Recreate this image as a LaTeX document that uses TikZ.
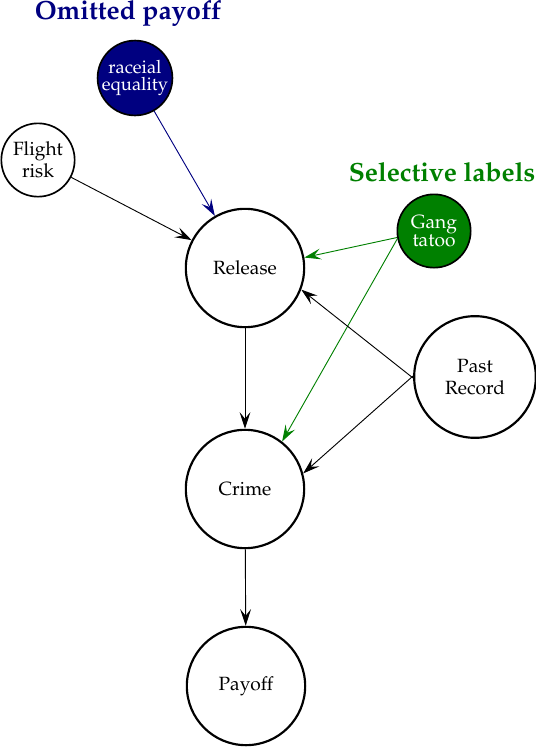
\documentclass[tikz,border=0pt]{standalone}
\usepackage[T1]{fontenc}
\usepackage{mathpazo}
\usetikzlibrary{arrows.meta}
\definecolor{navyc}{RGB}{0,0,128}
\definecolor{greenc}{RGB}{0,128,0}
\tikzset{
  bignode/.style={circle, draw=black, line width=1.3pt, minimum size=71pt, inner sep=0pt, align=center, font=\fontsize{11.5}{13.5}\selectfont},
  smallnode/.style={circle, draw=black, line width=1pt, minimum size=44pt, inner sep=0pt, align=center, font=\fontsize{11.5}{13}\selectfont},
  edge/.style={line width=0.55pt, -{Stealth[length=10pt, width=6.5pt, inset=4pt]}},
  title/.style={font=\fontsize{15.8}{18}\selectfont\bfseries, inner sep=0pt},
}
\begin{document}
\begin{tikzpicture}[x=0.6pt, y=-0.6pt]
\useasboundingbox (0,0) rectangle (536,747);
\node[title, text=navyc] (t1) at (128,13) {Omitted payoff};
\node[title, text=greenc] (t2) at (442,172) {Selective labels};
\node[smallnode, fill=navyc, text=white, font=\fontsize{11}{12}\selectfont] (race) at (135,78) {raceial\\[-2pt]equality};
\node[smallnode] (flight) at (38,160) {Flight\\risk};
\node[smallnode, fill=greenc, text=white] (gang) at (434,231) {Gang\\[-2pt]tatoo};
\node[bignode] (rel) at (245,268) {Release};
\node[bignode, minimum size=73pt] (past) at (475,377) {Past\\Record};
\node[bignode] (crime) at (245,489) {Crime};
\node[bignode] (pay) at (246,686) {Payoff};
\draw[edge, navyc] (race) -- (rel);
\draw[edge] (flight) -- (rel);
\draw[edge, greenc] (gang.190) -- (rel.10);
\draw[edge, greenc] (gang.192) -- (crime.52);
\draw[edge] (past.181) -- (rel.-21);
\draw[edge] (past.179) -- (crime.15);
\draw[edge] (rel) -- (crime);
\draw[edge] (crime) -- (pay);
\end{tikzpicture}
\end{document}
